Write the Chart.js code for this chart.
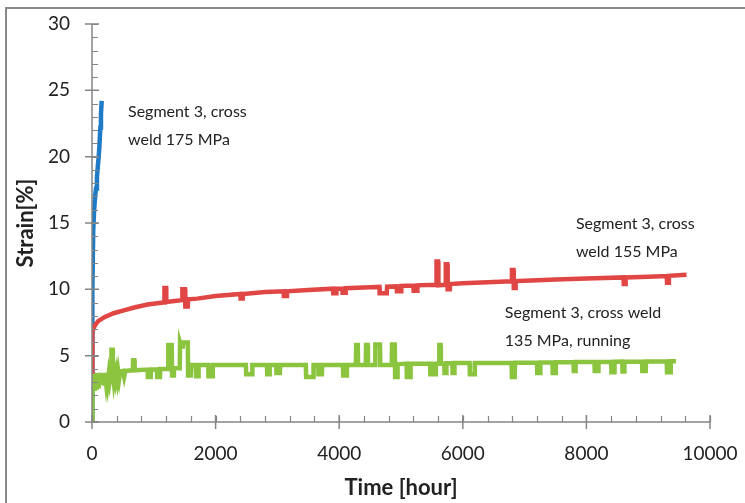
<!DOCTYPE html>
<html>
<head>
<meta charset="utf-8">
<script src="https://cdn.jsdelivr.net/npm/chart.js@4.4.0/dist/chart.umd.min.js"></script>
<style>
  html, body { margin: 0; padding: 0; background: #fff; }
  #wrap { width: 745px; height: 503px; position: relative; }
</style>
</head>
<body>
<div id="wrap"><canvas id="strainChart" width="745" height="503"></canvas></div>
<script>
// Creep strain vs time, three cross weld specimens

// Segment 3, cross weld 175 MPa (blue)
const blueTime   = [0, 2, 5, 10, 20, 35, 50, 65, 80, 95, 110, 120, 135, 145, 157];
const blueStrain = [0, 4, 7, 10, 14.5, 16, 17, 17.6, 18.5, 19.3, 20.1, 20.8, 22.2, 23.2, 24.2];

// Segment 3, cross weld 155 MPa (red)
const redTime = [
  0, 3, 8, 20, 50, 100, 200, 350, 500, 700, 900, 1150,
  1170, 1172, 1200, 1202, 1400, 1460, 1462, 1505, 1510, 1550, 1555, 1700,
  2000, 2400, 2405, 2440, 2445, 2800, 3100, 3105, 3150, 3155, 3500,
  3900, 3905, 3950, 3955, 4050, 4055, 4100, 4105, 4500, 4650, 4655, 4770, 4775,
  4930, 4935, 5000, 5005, 5200, 5205, 5260, 5265,
  5570, 5575, 5600, 5605, 5720, 5725, 5750, 5755, 5790, 5795, 6000, 6500,
  6790, 6795, 6820, 6825, 6850, 6855, 7000, 7500, 8000,
  8600, 8605, 8630, 8635, 9000, 9300, 9305, 9330, 9335, 9620];
const redStrain = [
  3.8, 5.5, 6.8, 7.0, 7.3, 7.6, 7.9, 8.2, 8.4, 8.65, 8.85, 9.0,
  9.0, 10.1, 10.1, 9.05, 9.15, 9.2, 10.0, 10.0, 8.7, 8.7, 9.25, 9.3,
  9.5, 9.65, 9.3, 9.3, 9.65, 9.8, 9.85, 9.5, 9.5, 9.85, 9.95,
  10.05, 9.7, 9.7, 10.05, 10.05, 9.75, 9.75, 10.08, 10.15, 10.18, 9.7, 9.7, 10.2,
  10.22, 9.85, 9.85, 10.25, 10.28, 9.9, 9.9, 10.3,
  10.35, 12.1, 12.1, 10.3, 10.35, 11.9, 11.9, 10.0, 10.0, 10.4, 10.45, 10.55,
  10.6, 11.45, 11.45, 10.1, 10.1, 10.62, 10.65, 10.75, 10.82,
  10.9, 10.4, 10.4, 10.9, 10.95, 11.0, 10.5, 10.5, 11.02, 11.1];

// Segment 3, cross weld 135 MPa, running (green); one row of times per row of strains
const greenTime = [
  0, 0, 8, 15, 23, 30, 38, 45, 53, 60, 68, 75, 83, 90, 98, 105, 113, 120,
  135, 150, 165, 180, 195, 210, 225, 240, 255, 270, 285, 300,
  312, 315, 335, 338, 350, 365, 380, 395, 410, 425, 440, 455,
  500, 520, 540, 660, 665, 685, 690, 900, 905, 950, 955, 1050, 1055, 1100, 1105,
  1230, 1235, 1290, 1295, 1320, 1325, 1420, 1425, 1440, 1445, 1470, 1475, 1550, 1555, 1600, 1605,
  1680, 1685, 1720, 1725, 1880, 1885, 1950, 1955,
  2490, 2495, 2590, 2595, 2830, 2835, 2870, 2875, 2980, 2985, 3040, 3045,
  3460, 3465, 3580, 3585, 3660, 3665, 3720, 3725, 4060, 4065, 4120, 4125,
  4270, 4275, 4300, 4305, 4430, 4435, 4460, 4465, 4580, 4585, 4660, 4665,
  4850, 4855, 4900, 4905, 4940, 4945,
  5090, 5095, 5150, 5155,
  5470, 5475, 5500, 5505, 5530, 5535, 5560, 5565,
  5615, 5620, 5640, 5645, 5700, 5705, 5730, 5735, 5830, 5835, 5860, 5865,
  6110, 6115, 6190, 6195, 6790, 6795, 6840, 6845, 7200, 7205, 7250, 7255,
  7450, 7455, 7500, 7505, 7790, 7795, 7820, 7825, 8130, 8135, 8190, 8195,
  8400, 8405, 8450, 8455, 8580, 8585, 8610, 8615, 8900, 8905, 8960, 8965,
  9300, 9305, 9360, 9365, 9450];
const greenStrain = [
  0, 3.7, 2.5, 3.6, 2.6, 3.7, 2.5, 3.5, 2.6, 3.6, 2.6, 3.7, 2.7, 3.6, 2.7, 3.6, 2.8, 3.7,
  2.8, 3.6, 2.9, 3.7, 2.9, 3.6, 3.0, 3.7, 3.0, 3.6, 3.1, 3.6,
  3.6, 5.45, 5.45, 3.6, 3.1, 3.7, 3.2, 3.7, 3.2, 3.8, 3.3, 3.8,
  3.85, 3.4, 3.85, 3.9, 4.65, 4.65, 3.9, 3.95, 3.4, 3.4, 3.95, 3.95, 3.4, 3.4, 4.0,
  4.0, 5.8, 5.8, 3.5, 3.5, 4.05, 4.05, 6.0, 6.0, 5.7, 5.7, 6.0, 6.0, 3.5, 3.5, 4.3,
  4.3, 3.45, 3.45, 4.3, 4.3, 3.45, 3.45, 4.3,
  4.3, 3.6, 3.6, 4.3, 4.3, 3.6, 3.6, 4.3, 4.3, 3.7, 3.7, 4.3,
  4.3, 3.4, 3.4, 4.3, 4.3, 3.6, 3.6, 4.3, 4.3, 3.5, 3.5, 4.3,
  4.3, 5.8, 5.8, 4.3, 4.3, 5.8, 5.8, 4.3, 4.3, 5.85, 5.85, 4.3,
  4.32, 5.85, 5.85, 3.4, 3.4, 4.35,
  4.4, 3.4, 3.4, 4.4,
  4.4, 3.6, 3.6, 4.4, 4.4, 3.6, 3.6, 4.4,
  4.4, 5.8, 5.8, 4.4, 4.4, 3.7, 3.7, 4.42, 4.42, 3.7, 3.7, 4.44,
  4.44, 3.6, 3.6, 4.45, 4.46, 3.4, 3.4, 4.47, 4.48, 3.7, 3.7, 4.49,
  4.5, 3.7, 3.7, 4.5, 4.51, 3.85, 3.85, 4.52, 4.52, 3.85, 3.85, 4.53,
  4.54, 3.75, 3.75, 4.54, 4.55, 3.8, 3.8, 4.55, 4.56, 3.85, 3.85, 4.56,
  4.57, 3.75, 3.75, 4.57, 4.57];

// Axis settings
const xTickValues = [0, 2000, 4000, 6000, 8000, 10000];
const yTickValues = [0, 5, 10, 15, 20, 25, 30];
const xMinorStep = 400;
const yMinorStep = 1;

// Text labels next to the curves: [time, strain] at the left/middle of the first line
const labelLines = [
  ['Segment 3, cross', 'weld 175 MPa'],
  ['Segment 3, cross', 'weld 155 MPa'],
  ['Segment 3, cross weld', '135 MPa, running']
];
const labelAnchors = [[583, 23.4], [7830, 14.9], [6680, 8.25]];

const FONT = 'Lato, "Open Sans", sans-serif';
const AXIS_COLOR = '#858585';

function toPoints(times, values) {
  return times.map((t, i) => ({ x: t, y: values[i] }));
}

// Axis lines, tick marks, outer frame and curve labels
const decorPlugin = {
  id: 'decor',
  afterDraw(chart) {
    const ctx = chart.ctx;
    const xs = chart.scales.x;
    const ys = chart.scales.y;
    const x0 = xs.getPixelForValue(0);
    const y0 = ys.getPixelForValue(0);

    ctx.save();
    // outer frame (top + left only, the rest is cropped)
    ctx.strokeStyle = '#8a8a8a';
    ctx.lineWidth = 2;
    ctx.beginPath();
    ctx.moveTo(6, 503);
    ctx.lineTo(6, 8);
    ctx.lineTo(745, 8);
    ctx.stroke();

    // axis lines
    ctx.strokeStyle = AXIS_COLOR;
    ctx.lineWidth = 1.5;
    ctx.beginPath();
    ctx.moveTo(x0, ys.getPixelForValue(30));
    ctx.lineTo(x0, y0);
    ctx.lineTo(xs.getPixelForValue(10000), y0);
    ctx.stroke();

    // minor ticks (inside)
    ctx.lineWidth = 1.2;
    ctx.beginPath();
    for (let v = 0; v <= 30; v += yMinorStep) {
      const py = Math.round(ys.getPixelForValue(v)) + 0.5;
      ctx.moveTo(x0, py);
      ctx.lineTo(x0 + 6, py);
    }
    for (let v = 0; v <= 10000; v += xMinorStep) {
      const px = Math.round(xs.getPixelForValue(v)) + 0.5;
      ctx.moveTo(px, y0);
      ctx.lineTo(px, y0 - 6);
    }
    ctx.stroke();

    // major ticks (cross the axis)
    ctx.lineWidth = 1.5;
    ctx.beginPath();
    yTickValues.forEach(v => {
      const py = ys.getPixelForValue(v);
      ctx.moveTo(x0 - 7, py);
      ctx.lineTo(x0 + 7, py);
    });
    xTickValues.forEach(v => {
      const px = xs.getPixelForValue(v);
      ctx.moveTo(px, y0 - 7);
      ctx.lineTo(px, y0 + 7);
    });
    ctx.stroke();

    // curve labels
    ctx.fillStyle = '#222';
    ctx.font = '16px ' + FONT;
    ctx.textAlign = 'left';
    ctx.textBaseline = 'middle';
    labelLines.forEach((lines, i) => {
      const px = xs.getPixelForValue(labelAnchors[i][0]);
      const py = ys.getPixelForValue(labelAnchors[i][1]);
      lines.forEach((txt, j) => ctx.fillText(txt, px, py + j * 28));
    });
    ctx.restore();
  }
};

const lineStyle = {
  showLine: true,
  pointRadius: 0,
  pointHoverRadius: 0,
  borderWidth: 4.5,
  tension: 0,
  fill: false
};

new Chart(document.getElementById('strainChart'), {
  type: 'scatter',
  data: {
    datasets: [
      Object.assign({ label: '155 MPa', data: toPoints(redTime, redStrain), borderColor: '#e04644' }, lineStyle),
      Object.assign({ label: '135 MPa', data: toPoints(greenTime, greenStrain), borderColor: '#8bc43f' }, lineStyle),
      Object.assign({ label: '175 MPa', data: toPoints(blueTime, blueStrain), borderColor: '#1f7bc6' }, lineStyle)
    ]
  },
  options: {
    responsive: false,
    animation: false,
    layout: { padding: { left: 0, top: 24, right: 35, bottom: 0 } },
    plugins: {
      legend: { display: false },
      tooltip: { enabled: false }
    },
    scales: {
      x: {
        type: 'linear',
        min: 0,
        max: 10000,
        afterFit: s => { s.height = 81; s.paddingLeft = 0; s.paddingRight = 0; },
        afterBuildTicks: s => { s.ticks = xTickValues.map(v => ({ value: v })); },
        grid: { display: false, drawTicks: false },
        border: { display: false },
        ticks: { font: { family: FONT, size: 19 }, color: '#222', padding: 20, maxRotation: 0, callback: v => String(v) },
        title: { display: true, text: 'Time [hour]', font: { family: FONT, size: 22, weight: 'bold' }, color: '#222', padding: { top: 0, bottom: 2 } }
      },
      y: {
        type: 'linear',
        min: 0,
        max: 30,
        afterFit: s => { s.width = 92; s.paddingTop = 0; s.paddingBottom = 0; },
        afterBuildTicks: s => { s.ticks = yTickValues.map(v => ({ value: v })); },
        grid: { display: false, drawTicks: false },
        border: { display: false },
        ticks: { font: { family: FONT, size: 19 }, color: '#222', padding: 22, callback: v => String(v) },
        title: { display: true, text: 'Strain[%]', font: { family: FONT, size: 22, weight: 'bold' }, color: '#222', padding: { top: 13, bottom: 0 } }
      }
    }
  },
  plugins: [decorPlugin]
});
</script>
</body>
</html>
